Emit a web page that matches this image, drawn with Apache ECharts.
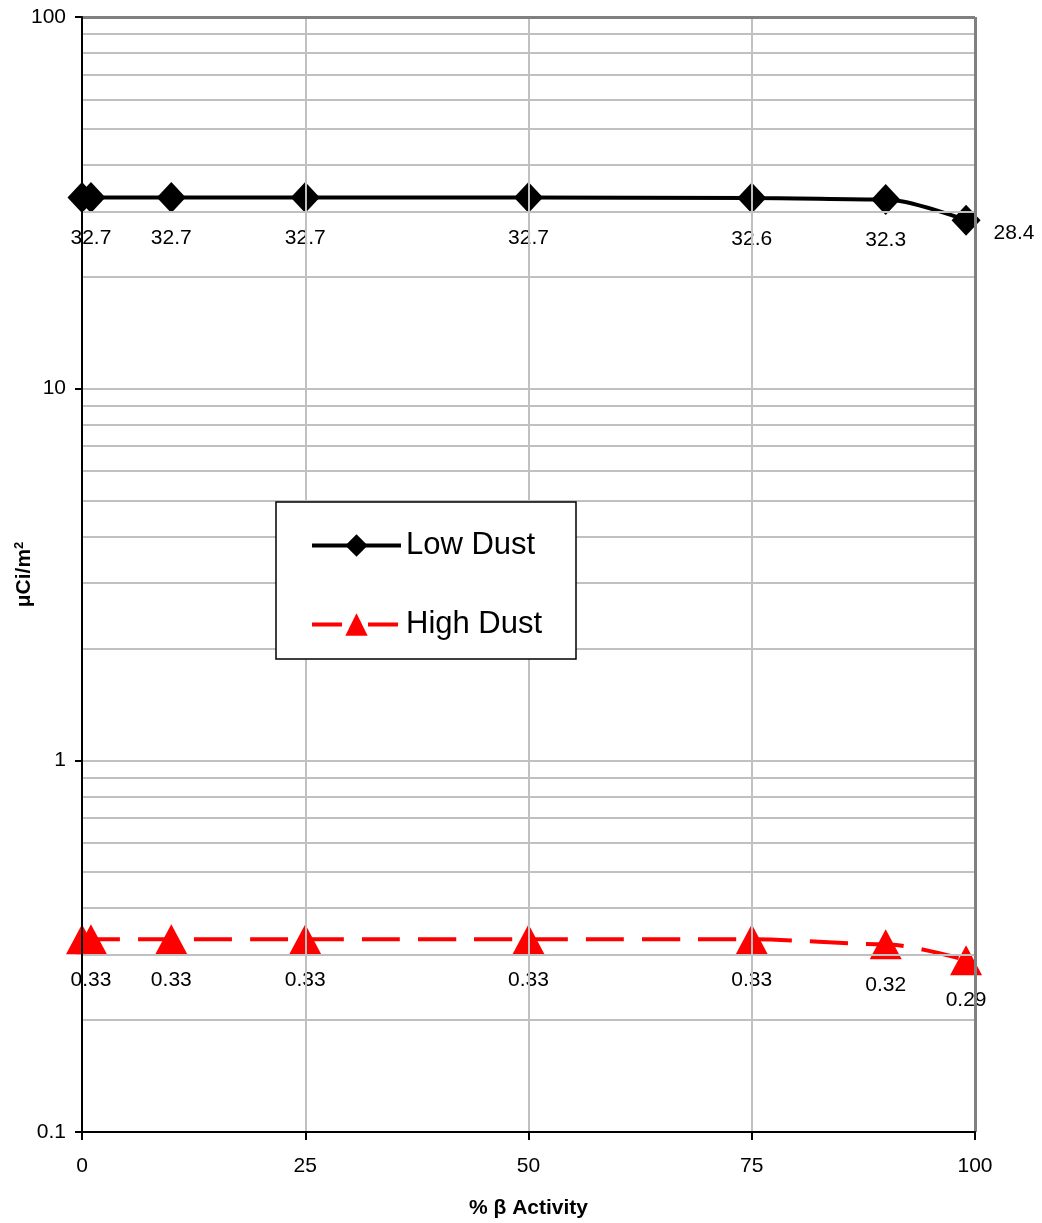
<!DOCTYPE html>
<html>
<head>
<meta charset="utf-8">
<script src="https://cdn.jsdelivr.net/npm/echarts@6/dist/echarts.min.js"></script>
<style>
html,body{margin:0;padding:0;background:#fff;}
#chart{width:1042px;height:1223px;}
</style>
</head>
<body>
<div id="chart"></div>
<script>
// ---- data ----
const xValues = [0, 1, 10, 25, 50, 75, 90, 99];
const lowDust = [32.7, 32.7, 32.7, 32.7, 32.7, 32.6, 32.3, 28.4];
const highDust = [0.33, 0.33, 0.33, 0.33, 0.33, 0.33, 0.32, 0.29];
const seriesNames = ['Low Dust', 'High Dust'];
const xTicks = [0, 25, 50, 75, 100];
const yTickLabels = ['0.1', '1', '10', '100'];
const minorGridValues = [0.2,0.3,0.4,0.5,0.6,0.7,0.8,0.9,1,2,3,4,5,6,7,8,9,10,20,30,40,50,60,70,80,90];

const FONT = 'Liberation Sans, Arial, Helvetica, sans-serif';
const LIGHT = '#c0c0c0';
const DARK = '#808080';

function buildData(vals, lastLabel) {
  return vals.map((v, i) => {
    const d = { value: [xValues[i], v] };
    if (i === 0) d.label = { show: false };
    if (lastLabel && i === vals.length - 1) d.label = lastLabel;
    return d;
  });
}

const labelBase = {
  show: true,
  position: 'bottom',
  distance: 15,
  color: '#000',
  fontFamily: FONT,
  fontSize: 21,
  formatter: p => String(p.value[1])
};

const chart = echarts.init(document.getElementById('chart'), null, { renderer: 'canvas' });
chart.setOption({
  animation: false,
  backgroundColor: '#fff',
  grid: { left: 82, right: 67, top: 17, bottom: 91, containLabel: false, outerBoundsMode: 'none' },
  xAxis: {
    type: 'value', min: 0, max: 100, interval: 25, z: 5,
    axisLine: { show: true, onZero: false, lineStyle: { color: '#000', width: 2 } },
    axisTick: { show: true, length: 8, lineStyle: { color: '#000', width: 2 } },
    axisLabel: { margin: 24, color: '#000', fontFamily: FONT, fontSize: 21 },
    splitLine: { show: true, lineStyle: { color: LIGHT, width: 2 } },
    name: '% β Activity', nameLocation: 'middle', nameGap: 66, nameMoveOverlap: false,
    nameTextStyle: { color: '#000', fontFamily: FONT, fontSize: 21, fontWeight: 'bold' }
  },
  yAxis: {
    type: 'log', logBase: 10, min: 0.1, max: 100, z: 5,
    axisLine: { show: true, onZero: false, lineStyle: { color: '#000', width: 2 } },
    axisTick: { show: true, length: 7, lineStyle: { color: '#000', width: 2 } },
    axisLabel: {
      margin: 16, color: '#000', fontFamily: FONT, fontSize: 21,
      formatter: (v) => {
        const idx = Math.round(Math.log10(v)) + 1;
        return yTickLabels[idx] !== undefined ? yTickLabels[idx] : String(v);
      }
    },
    splitLine: { show: false },
    minorTick: { show: false },
    name: 'μCi/m{sup|2}', nameLocation: 'middle', nameGap: 46, nameMoveOverlap: false,
    nameTextStyle: {
      color: '#000', fontFamily: FONT, fontSize: 21, fontWeight: 'bold',
      rich: { sup: { fontSize: 13, fontWeight: 'bold', fontFamily: FONT, color: '#000', padding: [0, 0, 10, 0] } }
    }
  },
  legend: {
    show: true, orient: 'vertical', left: 310, top: 530, z: 10,
    itemWidth: 89, itemHeight: 28, itemGap: 48,
    padding: 0,
    textStyle: { color: '#000', fontFamily: FONT, fontSize: 31, lineHeight: 30 },
    data: [
      { name: seriesNames[0], itemStyle: { color: '#000' }, lineStyle: { color: '#000', width: 4, type: 'solid' } },
      { name: seriesNames[1], itemStyle: { color: '#ff0000' }, lineStyle: { color: '#ff0000', width: 4, type: [30, 26] } }
    ]
  },
  graphic: [{
    type: 'rect', z: 8, silent: true,
    shape: { x: 276, y: 502, width: 300, height: 157 },
    style: { fill: '#fff', stroke: '#000', lineWidth: 1.5 }
  }],
  series: [
    {
      name: '_grid', type: 'line', z: 1, data: [], silent: true,
      markLine: {
        silent: true, symbol: 'none', animation: false,
        label: { show: false },
        lineStyle: { type: 'solid', color: LIGHT, width: 2 },
        data: minorGridValues.map(v => ({ yAxis: v }))
          .concat([
            { yAxis: 100, lineStyle: { color: DARK, width: 3, type: 'solid' } },
            { xAxis: 100, lineStyle: { color: DARK, width: 3, type: 'solid' } }
          ])
      }
    },
    {
      name: seriesNames[0], type: 'line', z: 3, clip: false,
      smooth: 0.3, smoothMonotone: 'x',
      symbol: 'diamond', symbolSize: [29, 31],
      itemStyle: { color: '#000' },
      lineStyle: { color: '#000', width: 4 },
      label: labelBase,
      data: buildData(lowDust, { show: true, position: 'right', distance: 13, offset: [0, 13] })
    },
    {
      name: seriesNames[1], type: 'line', z: 3, clip: false,
      smooth: 0.3, smoothMonotone: 'x',
      symbol: 'triangle', symbolSize: [32, 30],
      itemStyle: { color: '#ff0000' },
      lineStyle: { color: '#ff0000', width: 4, type: [38, 18] },
      label: labelBase,
      data: buildData(highDust, null)
    }
  ]
});
</script>
</body>
</html>
